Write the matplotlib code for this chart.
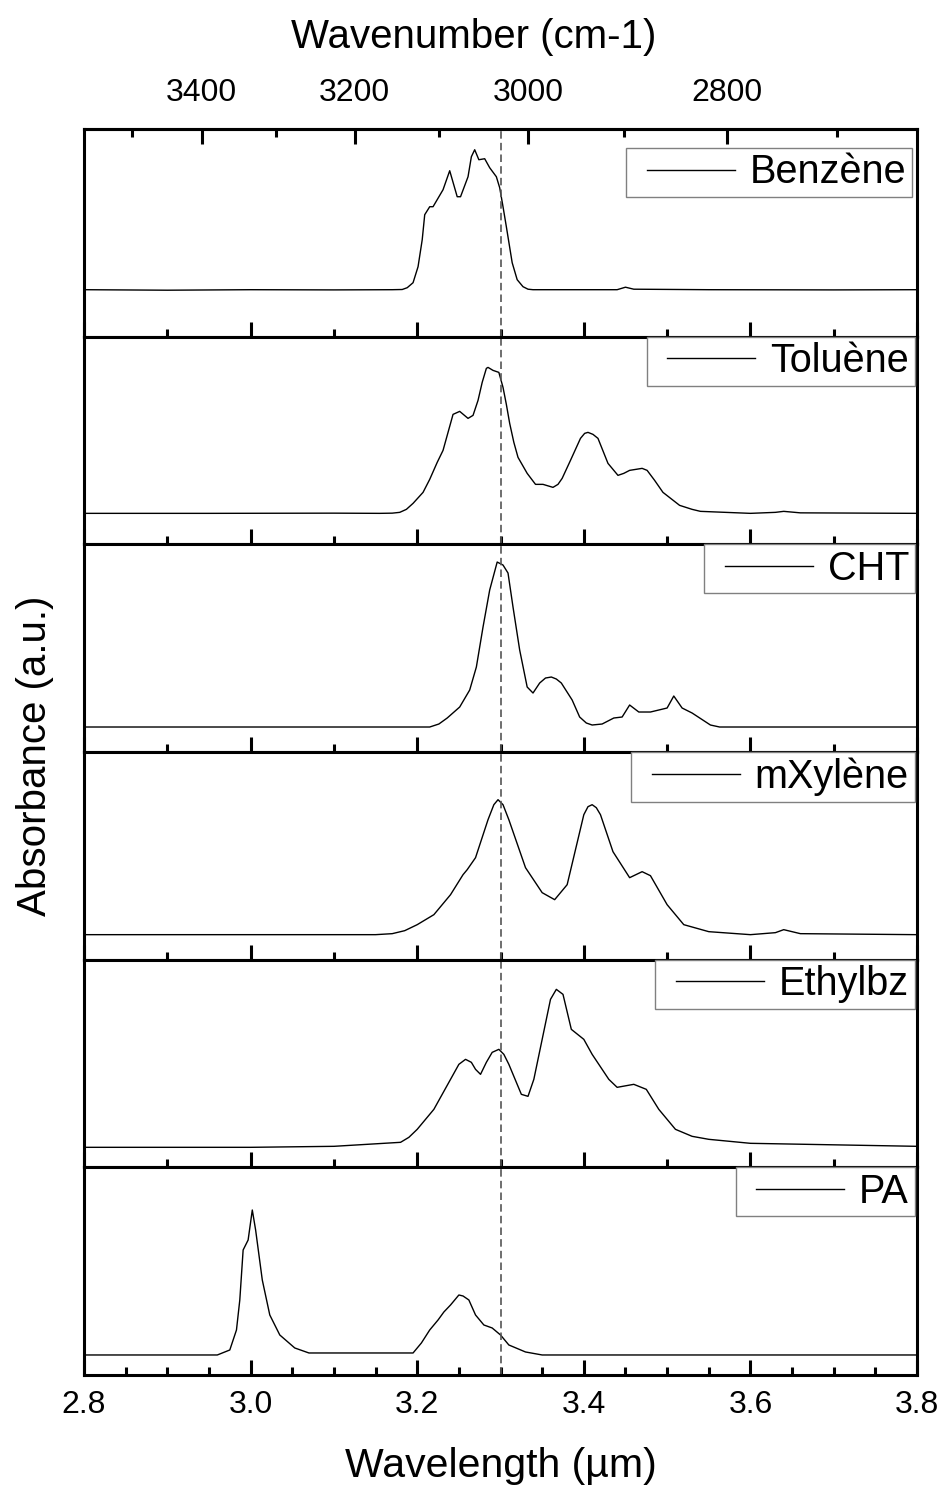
import numpy as np
import matplotlib
matplotlib.use("Agg")
from matplotlib import pyplot as plt
from matplotlib.ticker import MultipleLocator, FixedLocator, NullFormatter
from matplotlib.legend_handler import HandlerLine2D

plt.rcParams['font.family'] = ['Liberation Sans', 'DejaVu Sans']

# spectra, wavelength in um / absorbance (a.u., offset per panel)
names = ['Benzène', 'Toluène', 'CHT', 'mXylène', 'Ethylbz', 'PA']

benz_x = [2.80, 2.90, 3.00, 3.10, 3.17, 3.182, 3.188, 3.195, 3.201, 3.206, 3.209, 3.215, 3.219,
          3.231, 3.239, 3.248, 3.252, 3.261, 3.265, 3.269, 3.274, 3.281, 3.287, 3.295, 3.299,
          3.303, 3.307, 3.314, 3.320, 3.327, 3.333, 3.339, 3.40, 3.44, 3.45, 3.46, 3.55, 3.70, 3.80]
benz_y = [0.47, 0.465, 0.47, 0.468, 0.47, 0.472, 0.49, 0.54, 0.70, 0.97, 1.22, 1.30, 1.30,
          1.47, 1.66, 1.40, 1.40, 1.60, 1.80, 1.87, 1.77, 1.78, 1.69, 1.60, 1.49,
          1.30, 1.10, 0.74, 0.57, 0.50, 0.475, 0.47, 0.47, 0.47, 0.495, 0.475, 0.47, 0.468, 0.47]

tol_x = [2.80, 2.95, 3.10, 3.155, 3.170, 3.179, 3.187, 3.195, 3.207, 3.215, 3.224, 3.231, 3.243,
         3.251, 3.261, 3.267, 3.273, 3.278, 3.283, 3.285, 3.291, 3.298, 3.303, 3.307, 3.311,
         3.316, 3.321, 3.332, 3.342, 3.351, 3.363, 3.369, 3.374, 3.384, 3.396, 3.401, 3.405,
         3.411, 3.417, 3.429, 3.441, 3.448, 3.455, 3.470, 3.476, 3.485, 3.495, 3.515, 3.53,
         3.54, 3.60, 3.63, 3.64, 3.66, 3.80]
tol_y = [0.31, 0.31, 0.312, 0.31, 0.312, 0.32, 0.35, 0.41, 0.52, 0.65, 0.82, 0.94, 1.30,
         1.33, 1.26, 1.29, 1.44, 1.62, 1.76, 1.77, 1.74, 1.72, 1.57, 1.40, 1.21,
         1.02, 0.87, 0.71, 0.60, 0.60, 0.57, 0.60, 0.66, 0.84, 1.06, 1.11, 1.12,
         1.10, 1.06, 0.81, 0.69, 0.71, 0.74, 0.76, 0.74, 0.64, 0.52, 0.39, 0.35,
         0.33, 0.31, 0.32, 0.33, 0.315, 0.31]

cht_x = [2.80, 3.00, 3.155, 3.215, 3.226, 3.236, 3.251, 3.263, 3.271, 3.279, 3.287, 3.296, 3.303,
         3.309, 3.315, 3.323, 3.332, 3.339, 3.347, 3.354, 3.361, 3.367, 3.373, 3.386, 3.395,
         3.403, 3.410, 3.422, 3.436, 3.446, 3.455, 3.466, 3.480, 3.500, 3.508, 3.518, 3.530,
         3.552, 3.563, 3.70, 3.80]
cht_y = [0.25, 0.25, 0.25, 0.25, 0.28, 0.34, 0.45, 0.62, 0.85, 1.25, 1.62, 1.90, 1.87,
         1.79, 1.45, 1.02, 0.65, 0.59, 0.69, 0.74, 0.75, 0.73, 0.69, 0.52, 0.35,
         0.29, 0.27, 0.28, 0.34, 0.35, 0.47, 0.40, 0.40, 0.44, 0.56, 0.44, 0.39,
         0.27, 0.25, 0.25, 0.25]

mxy_x = [2.80, 3.00, 3.15, 3.17, 3.185, 3.20, 3.22, 3.24, 3.255, 3.26, 3.27, 3.285, 3.292, 3.297,
         3.303, 3.31, 3.33, 3.35, 3.365, 3.38, 3.39, 3.40, 3.405, 3.41, 3.415, 3.42, 3.435,
         3.455, 3.47, 3.48, 3.50, 3.52, 3.55, 3.60, 3.63, 3.64, 3.66, 3.80]
mxy_y = [0.25, 0.25, 0.25, 0.26, 0.29, 0.35, 0.45, 0.65, 0.85, 0.90, 1.02, 1.40, 1.55, 1.60,
         1.55, 1.40, 0.92, 0.67, 0.60, 0.75, 1.10, 1.45, 1.53, 1.55, 1.52, 1.45, 1.08,
         0.82, 0.88, 0.84, 0.55, 0.35, 0.28, 0.25, 0.27, 0.30, 0.26, 0.25]

eth_x = [2.80, 3.00, 3.10, 3.18, 3.19, 3.20, 3.22, 3.24, 3.25, 3.258, 3.265, 3.27, 3.276, 3.283,
         3.29, 3.298, 3.304, 3.31, 3.325, 3.333, 3.34, 3.35, 3.36, 3.367, 3.375, 3.385, 3.40,
         3.41, 3.43, 3.44, 3.46, 3.475, 3.49, 3.51, 3.53, 3.55, 3.60, 3.80]
eth_y = [0.20, 0.20, 0.21, 0.25, 0.30, 0.38, 0.58, 0.88, 1.03, 1.08, 1.05, 0.98, 0.93, 1.05,
         1.15, 1.18, 1.13, 1.03, 0.73, 0.71, 0.88, 1.28, 1.68, 1.78, 1.73, 1.38, 1.28,
         1.13, 0.88, 0.80, 0.83, 0.78, 0.58, 0.38, 0.31, 0.28, 0.24, 0.21]

pa_x = [2.80, 2.90, 2.96, 2.975, 2.983, 2.987, 2.991, 2.997, 3.002, 3.006, 3.014, 3.023, 3.035,
        3.053, 3.07, 3.18, 3.195, 3.205, 3.215, 3.225, 3.232, 3.24, 3.25, 3.255, 3.262, 3.27,
        3.28, 3.29, 3.30, 3.31, 3.33, 3.35, 3.60, 3.80]
pa_y = [0.20, 0.20, 0.20, 0.25, 0.45, 0.75, 1.25, 1.35, 1.65, 1.45, 0.95, 0.60, 0.40,
        0.27, 0.22, 0.22, 0.22, 0.32, 0.45, 0.55, 0.63, 0.70, 0.80, 0.79, 0.75, 0.60,
        0.50, 0.47, 0.40, 0.30, 0.23, 0.20, 0.20, 0.20]

spectra = [(benz_x, benz_y), (tol_x, tol_y), (cht_x, cht_y),
           (mxy_x, mxy_y), (eth_x, eth_y), (pa_x, pa_y)]

wn_major = [3400, 3200, 3000, 2800]
wn_minor = [3500, 3300, 3100, 2900, 2700]
ref_line = 3.3


def to_wn(x):
    x = np.asarray(x, dtype=float)
    with np.errstate(divide='ignore'):
        return 1e4 / x


fig, axes = plt.subplots(6, 1, figsize=(9.41, 14.9), dpi=100)
fig.subplots_adjust(left=0.0893, right=0.9745, top=0.9134, bottom=0.0772, hspace=0)

leg_fs = 28.5
for i, ax in enumerate(axes):
    x, y = spectra[i]
    ax.plot(x, y, color='black', lw=1.0, label=names[i])
    ax.axvline(ref_line, color='#555555', lw=1.2, ls=(0, (4.5, 2.5)))
    ax.set_xlim(2.8, 3.8)
    ax.set_ylim(0, 2.077)
    ax.set_yticks([])
    for s in ax.spines.values():
        s.set_linewidth(2.2)
    ax.xaxis.set_major_locator(MultipleLocator(0.2))
    if i == 5:
        ax.xaxis.set_minor_locator(MultipleLocator(0.05))
        ax.xaxis.set_major_formatter(plt.FormatStrFormatter('%.1f'))
    else:
        ax.xaxis.set_minor_locator(MultipleLocator(0.1))
        ax.xaxis.set_major_formatter(NullFormatter())
    ax.tick_params(axis='x', which='major', direction='in', length=11, width=2.2,
                   labelsize=23, pad=11)
    ax.tick_params(axis='x', which='minor', direction='in', length=5.5, width=2.2)
    if i == 0:
        anchor = (0.994, 0.909)
    else:
        anchor = (0.997, 1.0)
    leg = ax.legend(loc='upper right', bbox_to_anchor=anchor, borderaxespad=0,
                    fontsize=leg_fs, handlelength=2.6, handletextpad=0.38,
                    borderpad=0.14, fancybox=False, framealpha=1,
                    handler_map={plt.Line2D: HandlerLine2D(xpad=0.38)})
    leg.get_frame().set_edgecolor('#808080')
    leg.get_frame().set_linewidth(1.0)

axes[5].set_xlabel('Wavelength (µm)', fontsize=29.5, labelpad=19)

top = axes[0].secondary_xaxis('top', functions=(to_wn, to_wn))
top.xaxis.set_major_locator(FixedLocator(wn_major))
top.xaxis.set_minor_locator(FixedLocator(wn_minor))
top.tick_params(axis='x', which='major', direction='in', length=11, width=2.2,
                labelsize=23, pad=15)
top.tick_params(axis='x', which='minor', direction='in', length=5.5, width=2.2)
top.spines['top'].set_linewidth(2.2)
top.set_xlabel('Wavenumber (cm-1)', fontsize=29, labelpad=22)
top.xaxis.label.set_x(0.468)

fig.text(0.037, 0.493, 'Absorbance (a.u.)', rotation=90, fontsize=29,
         ha='center', va='center')

fig.savefig('out.png', dpi=100)
